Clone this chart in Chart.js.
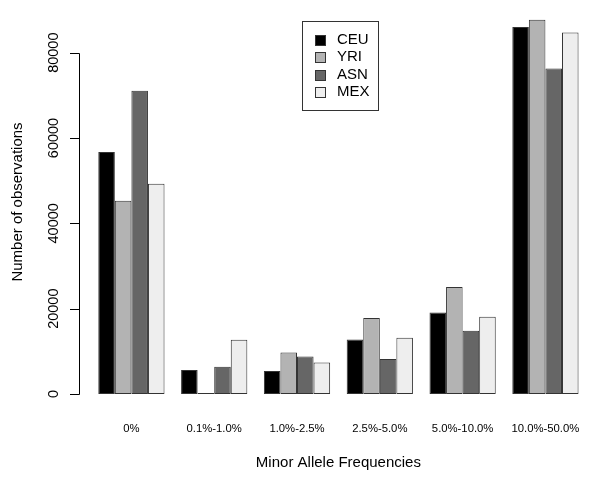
<!DOCTYPE html>
<html>
<head>
<meta charset="utf-8">
<title>Minor Allele Frequencies</title>
<script src="https://cdn.jsdelivr.net/npm/chart.js@4.4.1/dist/chart.umd.min.js"></script>
<style>
  html, body { margin: 0; padding: 0; background: #fff; }
  #wrap { width: 600px; height: 478px; }
</style>
</head>
<body>
<div id="wrap"><canvas id="mafChart"></canvas></div>
<script>
const categories = ['0%', '0.1%-1.0%', '1.0%-2.5%', '2.5%-5.0%', '5.0%-10.0%', '10.0%-50.0%'];
const ceuCounts = [56700, 5600, 5400, 12800, 19100, 86000];
const yriCounts = [45300, 0, 9700, 17800, 25100, 87700];
const asnCounts = [71100, 6400, 8800, 8200, 14800, 76300];
const mexCounts = [49300, 12700, 7400, 13200, 18100, 84700];
const yTicks = [0, 20000, 40000, 60000, 80000];

const FONT = '"Liberation Sans", Arial, Helvetica, sans-serif';
const EDGE = '#333333';

// R style y axis: line only between first and last tick, ticks out, labels turned 90deg
const rAxisPlugin = {
  id: 'rAxis',
  afterDraw(chart) {
    const ctx = chart.ctx;
    const y = chart.scales.y;
    const x0 = Math.round(chart.chartArea.left - 11) + 0.5;
    const py = v => Math.round(y.getPixelForValue(v)) + 0.5;
    ctx.save();
    ctx.strokeStyle = '#000';
    ctx.lineWidth = 1;
    ctx.beginPath();
    ctx.moveTo(x0, py(yTicks[0]));
    ctx.lineTo(x0, py(yTicks[yTicks.length - 1]));
    yTicks.forEach(v => {
      ctx.moveTo(x0, py(v));
      ctx.lineTo(x0 - 9.5, py(v));
    });
    ctx.stroke();

    ctx.fillStyle = '#000';
    ctx.font = '14.5px ' + FONT;
    ctx.textAlign = 'center';
    ctx.textBaseline = 'middle';
    yTicks.forEach(v => {
      ctx.save();
      ctx.translate(x0 - 26, y.getPixelForValue(v));
      ctx.rotate(-Math.PI / 2);
      ctx.fillText(String(v), 0, 0);
      ctx.restore();
    });
    ctx.restore();
  }
};

// boxed legend like R's legend()
const boxLegendPlugin = {
  id: 'boxLegend',
  afterDraw(chart, args, opts) {
    const ctx = chart.ctx;
    ctx.save();
    ctx.strokeStyle = EDGE;
    ctx.lineWidth = 1;
    ctx.strokeRect(opts.left + 0.5, opts.top + 0.5, opts.width, opts.height);
    ctx.font = '15px ' + FONT;
    ctx.textBaseline = 'middle';
    chart.data.datasets.forEach((ds, i) => {
      const cy = opts.top + opts.firstRow + i * opts.rowHeight;
      ctx.fillStyle = ds.backgroundColor;
      ctx.fillRect(opts.left + 13.5, Math.round(cy - 5) + 0.5, 10, 10);
      ctx.strokeStyle = EDGE;
      ctx.strokeRect(opts.left + 13.5, Math.round(cy - 5) + 0.5, 10, 10);
      ctx.fillStyle = '#000';
      ctx.fillText(ds.label, opts.left + 35, cy);
    });
    ctx.restore();
  }
};

function makeSet(label, data, color) {
  return {
    label: label,
    data: data,
    backgroundColor: color,
    borderColor: EDGE,
    borderWidth: 1,
    borderSkipped: false,
    minBarLength: 1,
    categoryPercentage: 0.8,
    barPercentage: 1.0
  };
}

new Chart(document.getElementById('mafChart'), {
  type: 'bar',
  data: {
    labels: categories,
    datasets: [
      makeSet('CEU', ceuCounts, '#000000'),
      makeSet('YRI', yriCounts, '#b3b3b3'),
      makeSet('ASN', asnCounts, '#666666'),
      makeSet('MEX', mexCounts, '#eeeeee')
    ]
  },
  options: {
    responsive: true,
    maintainAspectRatio: false,
    animation: false,
    devicePixelRatio: 1,
    layout: { padding: { top: 10, right: 8, bottom: 0, left: 0 } },
    plugins: {
      legend: { display: false },
      tooltip: { enabled: false },
      boxLegend: { left: 302, top: 21, width: 76, height: 89, firstRow: 18.5, rowHeight: 17.5 }
    },
    scales: {
      x: {
        grid: { display: false },
        border: { display: false },
        ticks: {
          color: '#000',
          font: { family: FONT, size: 11.3 },
          padding: 20,
          maxRotation: 0,
          autoSkip: false
        },
        title: {
          display: true,
          text: 'Minor Allele Frequencies',
          color: '#000',
          font: { family: FONT, size: 15 },
          padding: { top: 0, bottom: 6 }
        },
        afterFit: s => { s.height = 84; }
      },
      y: {
        min: 0,
        max: 90000,
        grid: { display: false },
        border: { display: false },
        afterBuildTicks: s => { s.ticks = yTicks.map(v => ({ value: v })); },
        ticks: { display: false },
        title: {
          display: true,
          text: 'Number of observations',
          color: '#000',
          font: { family: FONT, size: 15 },
          padding: { top: 9, bottom: 0 }
        },
        afterFit: s => { s.width = 90; }
      }
    }
  },
  plugins: [rAxisPlugin, boxLegendPlugin]
});
</script>
</body>
</html>
